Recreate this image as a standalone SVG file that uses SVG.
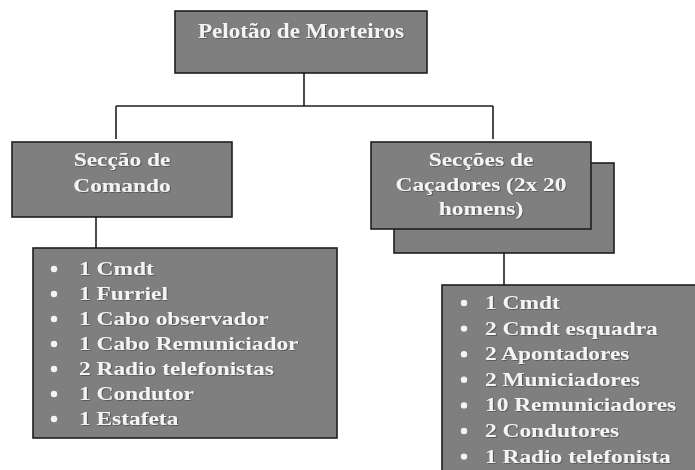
<svg xmlns="http://www.w3.org/2000/svg" width="695" height="470" viewBox="0 0 695 470">
<defs>
<style>
.box{fill:#7f7f7f;stroke:#1e1e1e;stroke-width:1.6}
.ln{fill:none;stroke:#1e1e1e;stroke-width:1.6}
.t{font-family:"Liberation Serif","Times New Roman",serif;font-weight:bold;font-size:19.5px;fill:#f4f4f4;filter:url(#sh)}
.c{text-anchor:middle}
.b{fill:#f4f4f4}
</style>
<filter id="sh" x="-5%" y="-20%" width="110%" height="140%">
<feDropShadow dx="0.8" dy="0.8" stdDeviation="0.4" flood-color="#303030" flood-opacity="0.6"/>
</filter>
</defs>
<rect width="695" height="470" fill="#ffffff"/>
<g id="connectors">
<path class="ln" d="M304 73 V106 M116 106 H493 M116 106 V139 M493 106 V139"/>
<path class="ln" d="M96 217 V248"/>
<path class="ln" d="M504 253 V285"/>
</g>
<g id="pelotao">
<rect class="box" x="175" y="11" width="252" height="62"/>
<text class="t c" style="font-size:21px" transform="translate(301,37.5) scale(1.1,1)">Pelotão de Morteiros</text>
</g>
<g id="seccao-comando">
<rect class="box" x="12" y="142" width="220" height="75"/>
<text class="t c" transform="translate(122,166) scale(1.2,1)">Secção de</text>
<text class="t c" transform="translate(122,192) scale(1.2,1)">Comando</text>
</g>
<g id="seccoes-cacadores">
<rect class="box" x="394" y="163" width="220" height="90"/>
<rect class="box" x="371" y="142" width="220" height="87"/>
<text class="t c" transform="translate(481,166) scale(1.2,1)">Secções de</text>
<text class="t c" transform="translate(481,191) scale(1.2,1)">Caçadores (2x 20</text>
<text class="t c" transform="translate(481,215) scale(1.2,1)">homens)</text>
</g>
<g id="lista-comando">
<rect class="box" x="33" y="248" width="304" height="190"/>
<g class="b">
<circle cx="54" cy="269" r="3.2"/>
<circle cx="54" cy="294" r="3.2"/>
<circle cx="54" cy="319" r="3.2"/>
<circle cx="54" cy="344" r="3.2"/>
<circle cx="54" cy="369" r="3.2"/>
<circle cx="54" cy="394" r="3.2"/>
<circle cx="54" cy="419" r="3.2"/>
</g>
<text class="t" transform="translate(79,275) scale(1.2,1)">1 Cmdt</text>
<text class="t" transform="translate(79,300) scale(1.2,1)">1 Furriel</text>
<text class="t" transform="translate(79,325) scale(1.2,1)">1 Cabo observador</text>
<text class="t" transform="translate(79,350) scale(1.2,1)">1 Cabo Remuniciador</text>
<text class="t" transform="translate(79,375) scale(1.2,1)">2 Radio telefonistas</text>
<text class="t" transform="translate(79,400) scale(1.2,1)">1 Condutor</text>
<text class="t" transform="translate(79,425) scale(1.2,1)">1 Estafeta</text>
</g>
<g id="lista-cacadores">
<rect class="box" x="442" y="285" width="260" height="200"/>
<g class="b">
<circle cx="464" cy="303" r="3.2"/>
<circle cx="464" cy="328.6" r="3.2"/>
<circle cx="464" cy="354.2" r="3.2"/>
<circle cx="464" cy="379.8" r="3.2"/>
<circle cx="464" cy="405.4" r="3.2"/>
<circle cx="464" cy="431" r="3.2"/>
<circle cx="464" cy="456.6" r="3.2"/>
</g>
<text class="t" transform="translate(485,309) scale(1.2,1)">1 Cmdt</text>
<text class="t" transform="translate(485,334.6) scale(1.2,1)">2 Cmdt esquadra</text>
<text class="t" transform="translate(485,360.2) scale(1.2,1)">2 Apontadores</text>
<text class="t" transform="translate(485,385.8) scale(1.2,1)">2 Municiadores</text>
<text class="t" transform="translate(485,411.4) scale(1.2,1)">10 Remuniciadores</text>
<text class="t" transform="translate(485,437) scale(1.2,1)">2 Condutores</text>
<text class="t" transform="translate(485,462.6) scale(1.2,1)">1 Radio telefonista</text>
</g>
</svg>
